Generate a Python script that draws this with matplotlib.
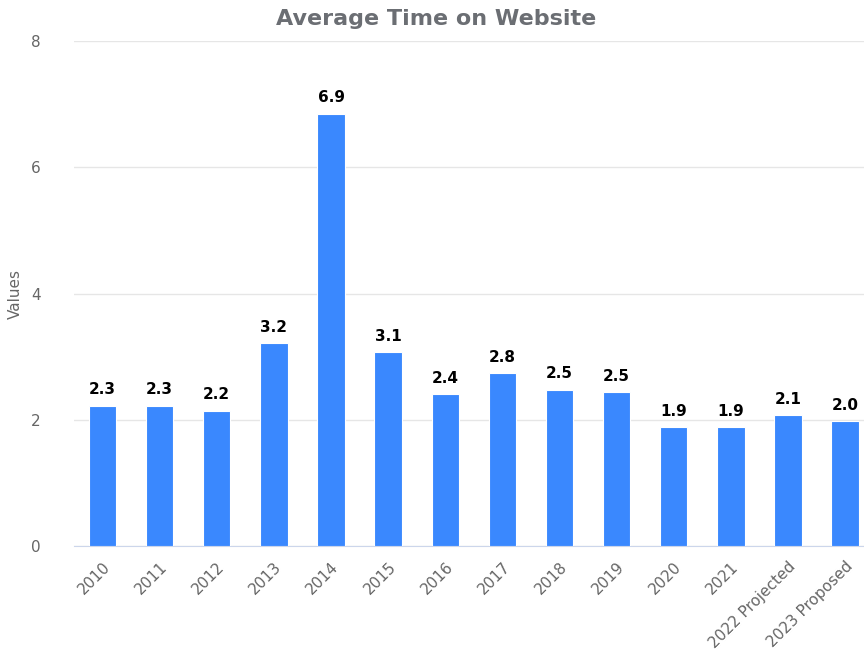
import matplotlib
matplotlib.use("Agg")
import matplotlib.pyplot as plt
import numpy as np

plt.rcParams["font.family"] = "DejaVu Sans"

categories = ["2010", "2011", "2012", "2013", "2014", "2015", "2016", "2017",
              "2018", "2019", "2020", "2021", "2022 Projected", "2023 Proposed"]
values = [2.23, 2.23, 2.15, 3.22, 6.85, 3.07, 2.41, 2.74, 2.48, 2.44, 1.89, 1.89, 2.08, 1.98]
labels = ["2.3", "2.3", "2.2", "3.2", "6.9", "3.1", "2.4", "2.8", "2.5", "2.5", "1.9", "1.9", "2.1", "2.0"]

fig = plt.figure(figsize=(8.64, 6.56), dpi=100)
ax = fig.add_axes([0.0856, 0.167, 0.9144, 0.7705])

x = np.arange(len(categories))
ax.bar(x, values, width=0.48, color="#3a88fe", edgecolor="white", linewidth=0.8, zorder=3)
for xi, v, lab in zip(x, values, labels):
    ax.annotate(lab, (xi, v), xytext=(0, 6), textcoords="offset points",
                ha="center", va="bottom", fontsize=11, fontweight="bold", color="black")

ax.set_xlim(-0.5, 13.33)
ax.set_ylim(0, 8)
ax.set_yticks([0, 2, 4, 6, 8])
ax.yaxis.grid(True, color="#e6e6e6", linewidth=1, zorder=0)
ax.set_axisbelow(True)
for s in ["top", "right", "left"]:
    ax.spines[s].set_visible(False)
ax.spines["bottom"].set_color("#ccd6eb")
ax.tick_params(axis="y", length=0, pad=24, labelsize=11, labelcolor="#666666")
ax.tick_params(axis="x", length=0, pad=9, labelsize=11, labelcolor="#666666")
ax.set_xticks(x)
ax.set_xticklabels(categories, rotation=45, ha="right", rotation_mode="anchor")
ax.set_ylabel("Values", fontsize=11, color="#666666", labelpad=6)
fig.suptitle("Average Time on Website", x=0.505, y=0.987, fontsize=16,
             fontweight="bold", color="#6b6e73")

fig.savefig("out.png", dpi=100)
